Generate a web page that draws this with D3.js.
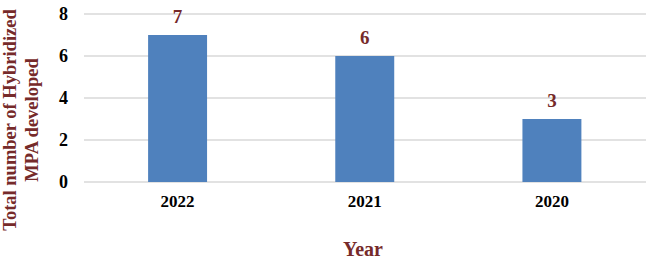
<!DOCTYPE html>
<html><head><meta charset="utf-8">
<script src="https://cdn.jsdelivr.net/npm/d3@7"></script>
<style>body{margin:0;background:#fff}svg{display:block}</style>
</head><body>
<svg id="c" width="646" height="261"></svg>
<script>
const categories = ["2022", "2021", "2020"];
const values = [7, 6, 3];
const yTicks = [0, 2, 4, 6, 8];

const W = 646, H = 261;
const margin = {left: 84, right: 0.5, top: 14, bottom: 79};
const svg = d3.select("#c");
const serif = "'Liberation Serif','Times New Roman',serif";
const titleColor = "#762a2a";

const x = d3.scaleBand().domain(categories)
  .range([margin.left, W - margin.right]).paddingInner(0.685).paddingOuter(0.3425);
const y = d3.scaleLinear().domain([0, 8]).range([H - margin.bottom, margin.top]);

// gridlines
svg.append("g").selectAll("line").data(yTicks).join("line")
  .attr("x1", margin.left).attr("x2", W)
  .attr("y1", d => y(d)).attr("y2", d => y(d))
  .attr("stroke", "#d9d9d9").attr("stroke-width", 1.5);

// bars
svg.append("g").selectAll("rect").data(values).join("rect")
  .attr("x", (d, i) => x(categories[i]))
  .attr("width", x.bandwidth())
  .attr("y", d => y(d))
  .attr("height", d => y(0) - y(d))
  .attr("fill", "#4f81bd");

// value labels
svg.append("g").selectAll("text").data(values).join("text")
  .attr("x", (d, i) => x(categories[i]) + x.bandwidth() / 2)
  .attr("y", d => y(d) - 12)
  .attr("text-anchor", "middle")
  .attr("font-family", serif).attr("font-weight", "bold").attr("font-size", 19)
  .attr("fill", titleColor)
  .text(d => d);

// y axis
const yAxis = d3.axisLeft(y).tickValues(yTicks).tickSize(0).tickPadding(0);
const gy = svg.append("g").attr("transform", `translate(68,0)`).call(yAxis);
gy.select(".domain").remove();
gy.selectAll("text").attr("font-family", serif).attr("font-weight", "bold")
  .attr("font-size", 18).attr("fill", "#000");

// x axis
const xAxis = d3.axisBottom(x).tickSize(0).tickPadding(0);
const gx = svg.append("g").attr("transform", `translate(0,${y(0)})`).call(xAxis);
gx.select(".domain").remove();
gx.selectAll("text").attr("font-family", serif).attr("font-weight", "bold")
  .attr("font-size", 17).attr("fill", "#000").attr("dy", null).attr("y", 25);

// axis titles
svg.append("text").attr("x", 363).attr("y", 256).attr("text-anchor", "middle")
  .attr("font-family", serif).attr("font-weight", "bold").attr("font-size", 20)
  .attr("fill", titleColor).text("Year");

const yt = svg.append("text").attr("transform", "translate(0,120) rotate(-90)")
  .attr("text-anchor", "middle")
  .attr("font-family", serif).attr("font-weight", "bold").attr("font-size", 18.5)
  .attr("fill", titleColor);
yt.append("tspan").attr("x", 0).attr("y", 16).text("Total number of Hybridized");
yt.append("tspan").attr("x", 0).attr("y", 38).text("MPA developed");
</script>
</body></html>
